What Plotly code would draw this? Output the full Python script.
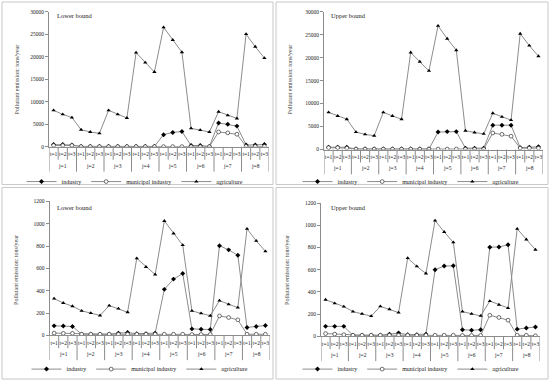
import plotly.graph_objects as go

# ---------------- data ----------------
groups = ["j=1", "j=2", "j=3", "j=4", "j=5", "j=6", "j=7", "j=8"]
periods = ["t=1", "t=2", "t=3"]
inner = [p for _ in groups for p in periods]
xpos = list(range(len(inner)))

# panel (a): lower bound, large scale
a_industry = [500, 500, 400, 100, 100, 100, 100, 100, 100, 100, 100, 100,
              2700, 3200, 3400, 300, 300, 100, 5300, 5000, 4600, 400, 400, 500]
a_municipal = [300, 300, 300, 50, 50, 50, 50, 50, 50, 50, 50, 50,
               50, 50, 50, 50, 50, 50, 3300, 3100, 2800, 100, 100, 100]
a_agriculture = [8100, 7200, 6500, 3800, 3300, 3000, 8100, 7200, 6400, 20900, 18700, 16600,
                 26500, 23700, 21000, 4100, 3700, 3300, 7800, 7000, 6300, 25000, 22200, 19700]

# panel (b): upper bound, large scale
b_industry = [500, 500, 500, 100, 100, 100, 100, 100, 100, 100, 100, 100,
              3800, 3900, 3900, 300, 300, 300, 5300, 5300, 5300, 400, 500, 600]
b_municipal = [400, 400, 300, 100, 100, 100, 100, 100, 100, 100, 100, 100,
               100, 100, 100, 100, 100, 100, 3600, 3300, 2900, 300, 300, 300]
b_agriculture = [8100, 7300, 6600, 3800, 3300, 3000, 8100, 7300, 6600, 21100, 19100, 17100,
                 26900, 24100, 21600, 4100, 3700, 3400, 7900, 7100, 6400, 25200, 22600, 20300]

# panel (c): lower bound, small scale
c_industry = [85, 83, 80, 10, 10, 10, 10, 20, 25, 15, 15, 20,
              412, 504, 554, 58, 55, 52, 803, 766, 717, 71, 80, 88]
c_municipal = [20, 18, 18, 10, 10, 10, 10, 10, 10, 10, 10, 10,
               10, 10, 10, 8, 8, 8, 174, 160, 139, 10, 10, 10]
c_agriculture = [329, 290, 261, 220, 199, 178, 267, 240, 207, 690, 613, 545,
                 1025, 913, 809, 219, 197, 176, 311, 278, 248, 954, 847, 753]

# panel (d): upper bound, small scale
d_industry = [90, 90, 90, 10, 10, 10, 10, 20, 30, 15, 15, 20,
              600, 633, 635, 60, 55, 60, 803, 805, 825, 65, 75, 85]
d_municipal = [25, 20, 15, 10, 10, 10, 10, 10, 10, 10, 10, 10,
               10, 10, 10, 8, 8, 8, 190, 170, 146, 10, 10, 5]
d_agriculture = [330, 297, 268, 223, 202, 182, 270, 244, 214, 705, 630, 566,
                 1043, 940, 846, 223, 203, 184, 318, 285, 255, 968, 872, 780]

panel_titles = ["Lower bound", "Upper bound", "Lower bound", "Upper bound"]
y_title = "Pollutant emission: tons/year"
y_ranges = [[0, 30000], [0, 30000], [0, 1200], [0, 1200]]
y_dticks = [5000, 5000, 200, 200]

W, H = 550, 384
def px(x):
    return x / W
def py(y):
    return 1 - y / H

# plot-area pixel boxes (left, right, top, bottom)
boxes = [(49, 269, 11.7, 148), (324, 543, 11.7, 150.7),
         (49.5, 270, 203, 338), (321, 540, 204.7, 339)]
legend_pos = [(135, 183), (411, 183), (140, 372), (411, 372)]
title_pos = [(55, 16), (329, 16), (55, 209), (329, 209)]
ytitle_pos = [(17, 80), (290, 80), (16, 272), (287, 272)]
frames = [(2, 273, 2, 186), (276, 548, 2, 186), (2, 273, 189, 382), (276, 548, 189, 382)]

data_sets = [(a_industry, a_municipal, a_agriculture),
             (b_industry, b_municipal, b_agriculture),
             (c_industry, c_municipal, c_agriculture),
             (d_industry, d_municipal, d_agriculture)]

FONT = "Liberation Serif"
LINE = "#8c8c8c"
AX = "#8c8c8c"
TICK_ROW = 13     # px height of the t-row
LABEL_ROWS = 25   # px height of both label rows

fig = go.Figure()
layout = dict(width=W, height=H, margin=dict(l=0, r=0, t=0, b=0),
              paper_bgcolor="white", plot_bgcolor="white", showlegend=True,
              font=dict(family=FONT, size=6, color="#222"))
shapes, annotations = [], []

for i, (ind, mun, agr) in enumerate(data_sets):
    n = "" if i == 0 else str(i + 1)
    xa, ya = "x" + n, "y" + n
    lg = "legend" + n
    common = dict(x=xpos, xaxis=xa, yaxis=ya, mode="lines+markers",
                  line=dict(color=LINE, width=1), legend=lg, hoverinfo="skip")
    fig.add_trace(go.Scatter(y=ind, name="industry",
                             marker=dict(symbol="diamond", size=3.8, color="black"), **common))
    fig.add_trace(go.Scatter(y=mun, name="municipal industry",
                             marker=dict(symbol="circle", size=3.8, color="white",
                                         line=dict(color="#333", width=0.7)), **common))
    fig.add_trace(go.Scatter(y=agr, name="agriculture",
                             marker=dict(symbol="triangle-up", size=3.8, color="black"), **common))

    l, r, t, b = boxes[i]
    layout["xaxis" + n] = dict(domain=[px(l), px(r)], anchor=ya, range=[-0.5, len(inner) - 0.5],
                               showline=True, linecolor=AX, linewidth=1,
                               tickmode="array", tickvals=xpos, ticktext=inner, ticks="",
                               ticklabelstandoff=2, tickangle=0,
                               tickfont=dict(size=5.5, color="#222", family=FONT),
                               showgrid=False, zeroline=False, automargin=False, fixedrange=True)
    layout["yaxis" + n] = dict(domain=[py(b), py(t)], anchor=xa, range=y_ranges[i],
                               dtick=y_dticks[i], tickformat="d", showline=True, linecolor=AX,
                               linewidth=1, ticks="outside", ticklen=3, tickcolor=AX,
                               tickfont=dict(size=5.5, color="#222", family=FONT),
                               showgrid=False, zeroline=False, automargin=False, fixedrange=True)
    # category boundary ticks (short) and group dividers (long)
    for k in range(len(inner) + 1):
        depth = LABEL_ROWS if k % len(periods) == 0 else TICK_ROW
        shapes.append(dict(type="line", xref=xa, yref="paper", x0=k - 0.5, x1=k - 0.5,
                           y0=py(b), y1=py(b + depth), line=dict(color=AX, width=1)))
    # group labels
    for g, name in enumerate(groups):
        annotations.append(dict(x=g * len(periods) + (len(periods) - 1) / 2, xref=xa,
                                y=py(b + 19), yref="paper", text=name, showarrow=False,
                                xanchor="center", yanchor="middle",
                                font=dict(size=5.5, family=FONT, color="#222")))
    lx, lyy = legend_pos[i]
    layout[lg] = dict(x=px(lx), y=py(lyy), xanchor="center", yanchor="middle",
                      orientation="h", font=dict(size=6, family=FONT, color="#222"),
                      itemwidth=30, bgcolor="rgba(0,0,0,0)", tracegroupgap=0)
    tx, ty = title_pos[i]
    annotations.append(dict(x=px(tx), y=py(ty), xref="paper", yref="paper", text=panel_titles[i],
                            showarrow=False, xanchor="left", yanchor="middle",
                            font=dict(size=6.5, family=FONT, color="#222")))
    yx, yy = ytitle_pos[i]
    annotations.append(dict(x=px(yx), y=py(yy), xref="paper", yref="paper", text=y_title,
                            showarrow=False, textangle=-90, xanchor="center", yanchor="middle",
                            font=dict(size=6, family=FONT, color="#444")))
    fl, fr, ft, fb = frames[i]
    shapes.append(dict(type="rect", xref="paper", yref="paper", x0=px(fl), x1=px(fr),
                       y0=py(fb), y1=py(ft), line=dict(color="#c8c8c8", width=1)))

layout["shapes"] = shapes
layout["annotations"] = annotations
fig.update_layout(**layout)
fig.write_html("out.html", config={"displayModeBar": False},
               post_script="document.body.style.margin='0px';document.body.style.padding='0px';")
